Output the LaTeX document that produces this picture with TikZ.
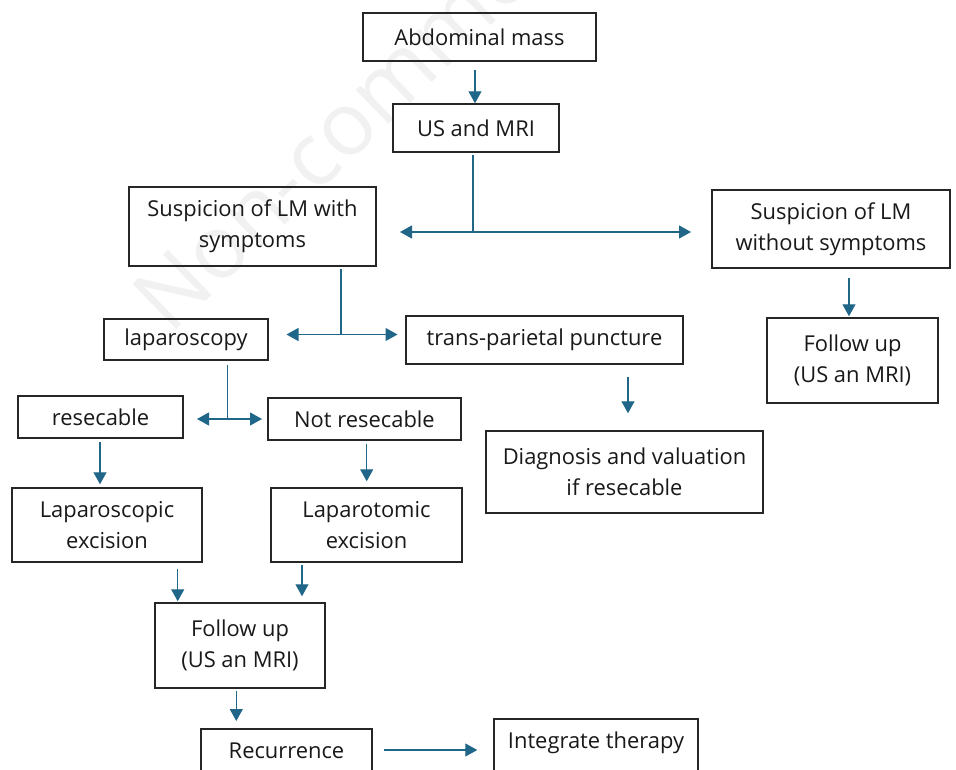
\documentclass[tikz,border=0pt]{standalone}
\usepackage{fontspec}
\setmainfont{Open Sans}
\usetikzlibrary{arrows.meta,calc}
\definecolor{arrc}{HTML}{1F6689}
\definecolor{boxc}{HTML}{262626}
\definecolor{wmc}{HTML}{F1F1F1}
\tikzset{
  box/.style={draw=boxc, line width=1.5pt, inner sep=0pt, align=center, text=black!90, font=\fontsize{21.9}{31}\selectfont},
  txt/.style={inner sep=0pt, align=center, text=black!90, font=\fontsize{21.9}{31}\selectfont},
  ln/.style={draw=arrc, line width=1.2pt},
  arr/.style={draw=arrc, line width=1.2pt, -{Triangle[length=12pt,width=13pt]}},
}
\begin{document}
\begin{tikzpicture}[x=1pt,y=-1pt]
\useasboundingbox (0,0) rectangle (956,769);
\clip (0,0) rectangle (956,769);
\fill[white] (0,0) rectangle (956,769);
% watermark
\node[rotate=44, anchor=base west, text=wmc, inner sep=0pt, font=\fontsize{88}{88}\selectfont] (wm) at (170,336) {Non-commercial use};
% boxes
\node[box, minimum width=233, minimum height=48] (abd) at (479.5,37) {Abdominal mass};
\node[box, minimum width=166, minimum height=48] (us) at (476,128) {US and MRI};
\node[box, minimum width=247, minimum height=79] (sw) at (252.5,226.5) {Suspicion of LM with\\symptoms};
\node[box, minimum width=238, minimum height=78] (swo) at (831,229) {Suspicion of LM\\without symptoms};
\node[box, minimum width=171, minimum height=85] (fur) at (852.5,360.5) {Follow up\\(US an MRI)};
\node[box, minimum width=277, minimum height=48] (tp) at (544.5,340) {trans-parietal puncture};
\node[box, minimum width=277, minimum height=82] (diag) at (624.5,472) {Diagnosis and valuation\\if resecable};
\node[box, minimum width=164, minimum height=41] (lap) at (186,339.5) {laparoscopy};
\node[box, minimum width=165, minimum height=42] (res) at (100.5,417) {resecable};
\node[box, minimum width=193, minimum height=42] (nres) at (364.5,419) {Not resecable};
\node[box, minimum width=190, minimum height=74] (lex) at (107,525) {Laparoscopic\\excision};
\node[box, minimum width=191, minimum height=74] (ltex) at (366.5,525) {Laparotomic\\excision};
\node[box, minimum width=170, minimum height=85] (fub) at (240,645.5) {Follow up\\(US an MRI)};
\node[box, minimum width=171, minimum height=70, anchor=north] (rec) at (286.5,728) {};
\node[txt] (rect) at (286.5,751) {Recurrence};
\node[box, minimum width=204, minimum height=70, anchor=north] (it) at (596,718) {};
\node[txt] (itt) at (596,743) {Integrate therapy};
% junction coordinates
\coordinate (j1) at (473,232);
\coordinate (j1l) at (400,232);
\coordinate (j1r) at (691,232);
\coordinate (j2) at (341,334.5);
\coordinate (j2l) at (286.5,334.5);
\coordinate (j2r) at (397.5,334.5);
\coordinate (j3) at (227.5,419);
\coordinate (j3l) at (197,419);
\coordinate (j3r) at (262,419);
% connectors
\draw[arr] ([yshift=-8pt]abd.south -| 475,0) -- (us.north -| 475,0);
\draw[ln] ([yshift=-2pt]us.south -| j1) -- (j1);
\draw[arr] (j1) -- (j1l);
\draw[arr] (j1) -- (j1r);
\draw[ln] ([yshift=-2pt]sw.south -| j2) -- (j2);
\draw[arr] (j2) -- (j2l);
\draw[arr] (j2) -- (j2r);
\draw[ln] ([yshift=-4pt]lap.south -| j3) -- (j3);
\draw[arr] (j3) -- (j3l);
\draw[arr] (j3) -- (j3r);
\draw[arr] ([yshift=-9pt]swo.south -| 849,0) -- ([yshift=1pt]fur.north -| 849,0);
\draw[arr] ([yshift=-12pt]tp.south -| 628,0) -- ([yshift=17pt]diag.north -| 628,0);
\draw[arr] ([yshift=-3pt]res.south -| 100,0) -- ([yshift=3pt]lex.north -| 100,0);
\draw[arr] ([yshift=-3pt]nres.south -| 366.7,0) -- ([yshift=6pt]ltex.north -| 366.7,0);
\draw[arr] ([yshift=-6pt]lex.south -| 177.7,0) -- ([yshift=1pt]fub.north -| 177.7,0);
\draw[arr] ([yshift=-2pt]ltex.south -| 302,0) -- ([yshift=6pt]fub.north -| 302,0);
\draw[arr] ([yshift=-2pt]fub.south -| 236.3,0) -- ([yshift=7pt]rec.north -| 236.3,0);
\draw[arr] ([xshift=11pt]rec.east |- 0,750) -- ([xshift=-16pt]it.west |- 0,750);
\end{tikzpicture}
\end{document}
